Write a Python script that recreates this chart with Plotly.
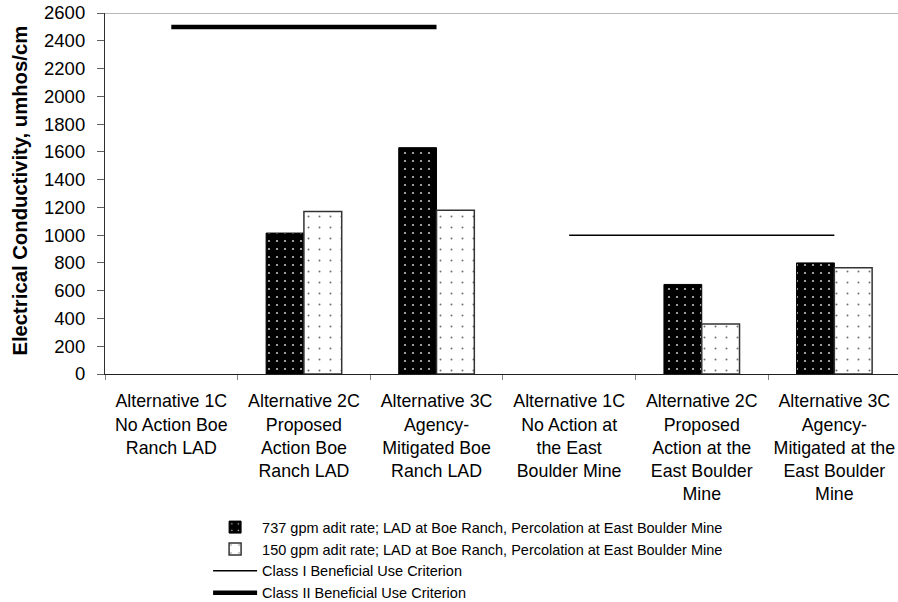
import plotly.graph_objects as go

# Alternatives (categories on the x axis)
categories = [
    "Alternative 1C<br>No Action Boe<br>Ranch LAD",
    "Alternative 2C<br>Proposed<br>Action Boe<br>Ranch LAD",
    "Alternative 3C<br>Agency-<br>Mitigated Boe<br>Ranch LAD",
    "Alternative 1C<br>No Action at<br>the East<br>Boulder Mine",
    "Alternative 2C<br>Proposed<br>Action at the<br>East Boulder<br>Mine",
    "Alternative 3C<br>Agency-<br>Mitigated at the<br>East Boulder<br>Mine",
]

# Electrical conductivity, umhos/cm
ec_737 = [None, 1015, 1630, None, 645, 800]
ec_150 = [None, 1170, 1180, None, 360, 765]

# Beneficial use criteria
class2_x = categories[0:3]
class2_y = [2500, 2500, 2500]
class1_x = categories[3:6]
class1_y = [1000, 1000, 1000]

y_ticks = list(range(0, 2601, 200))

FONT = "Liberation Sans, Arial, sans-serif"

fig = go.Figure()

fig.add_trace(go.Bar(
    name="737 gpm adit rate; LAD at Boe Ranch, Percolation at East Boulder Mine",
    x=categories, y=ec_737,
    marker=dict(
        color="black",
        line=dict(color="black", width=1),
        pattern=dict(shape=".", bgcolor="black", fgcolor="#e6e6e6",
                     size=8, solidity=0.04, fillmode="replace"),
    ),
))
fig.add_trace(go.Bar(
    name="150 gpm adit rate; LAD at Boe Ranch, Percolation at East Boulder Mine",
    x=categories, y=ec_150,
    marker=dict(
        color="white",
        line=dict(color="#333333", width=1.5),
        pattern=dict(shape=".", bgcolor="white", fgcolor="#707070",
                     size=11, solidity=0.025, fillmode="replace"),
    ),
))
fig.add_trace(go.Scatter(
    name="Class I Beneficial Use Criterion",
    x=class1_x, y=class1_y, mode="lines",
    line=dict(color="black", width=1.5),
))
fig.add_trace(go.Scatter(
    name="Class II Beneficial Use Criterion",
    x=class2_x, y=class2_y, mode="lines",
    line=dict(color="black", width=4.5),
))

# light frame line along the top of the plot area
fig.add_shape(type="line", xref="paper", yref="y", x0=0, x1=1, y0=2600, y1=2600,
              line=dict(color="#a0a0a0", width=1.5), layer="below")

# y-axis title
fig.add_annotation(
    text="<b>Electrical Conductivity, umhos/cm</b>",
    xref="paper", yref="paper", x=-0.1072, y=0.508,
    xanchor="center", yanchor="middle", textangle=-90, showarrow=False,
    font=dict(family=FONT, size=20.3, color="black"),
)

fig.update_layout(
    width=898, height=602,
    margin=dict(l=105, r=0, t=13, b=228, autoexpand=False),
    paper_bgcolor="white", plot_bgcolor="white",
    font=dict(family=FONT, color="black", size=17.5),
    barmode="group", bargap=0.43, bargroupgap=0,
    showlegend=True,
    legend=dict(
        orientation="v", x=0.13, xanchor="left", y=-0.38, yanchor="top",
        font=dict(family=FONT, size=14.5, color="black"),
        itemwidth=44, traceorder="normal", bgcolor="rgba(0,0,0,0)",
    ),
    xaxis=dict(
        type="category", categoryorder="array", categoryarray=categories,
        range=[-0.5, 5.48], automargin=False,
        showline=True, linecolor="#202020", linewidth=1.2,
        ticks="outside", tickson="boundaries", ticklen=5, tickcolor="#808080",
        showgrid=False, zeroline=False,
        tickfont=dict(family=FONT, size=17.8, color="black"),
        ticklabelstandoff=11,
    ),
    yaxis=dict(
        range=[0, 2600], tickmode="array", tickvals=y_ticks, automargin=False,
        showline=True, linecolor="#303030", linewidth=1.2,
        ticks="outside", ticklen=7, tickcolor="#606060",
        showgrid=False, zeroline=False,
        tickfont=dict(family=FONT, size=18.5, color="black"),
        ticklabelstandoff=8,
    ),
)

fig.write_html("out.html")
